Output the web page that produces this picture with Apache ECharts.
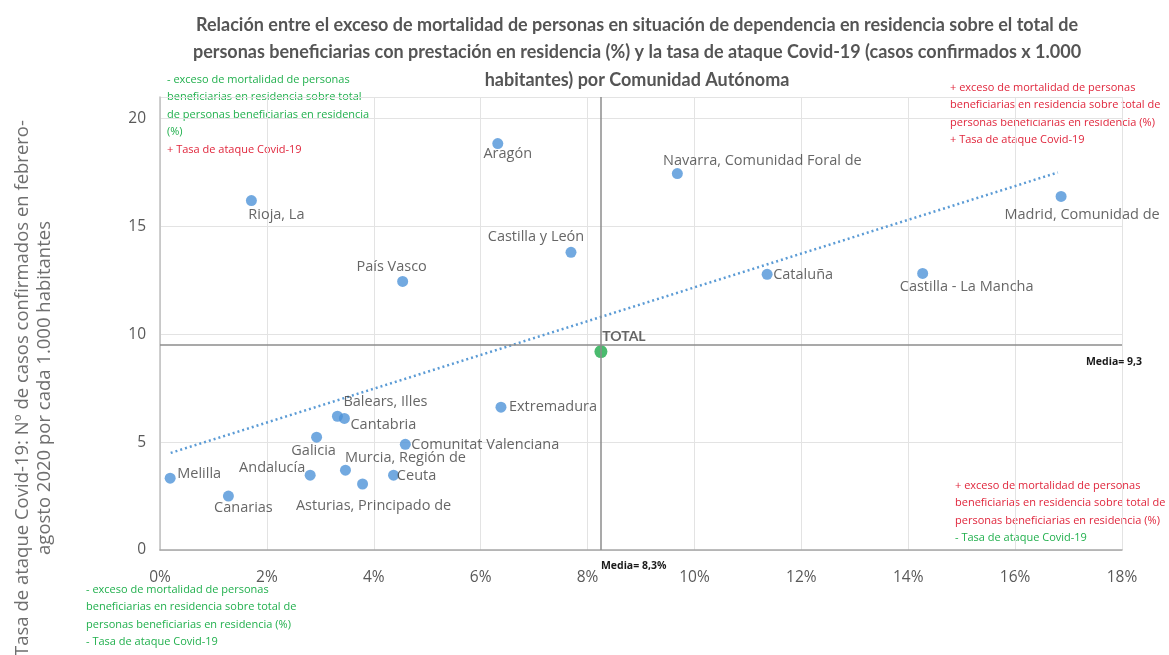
<!DOCTYPE html>
<html>
<head>
<meta charset="utf-8">
<script src="https://cdn.jsdelivr.net/npm/echarts@6/dist/echarts.min.js"></script>
<style>
  html, body { margin: 0; padding: 0; background: #fff; }
  #chart { width: 1169px; height: 655px; }
</style>
</head>
<body>
<div id="chart"></div>
<script>
// datos por Comunidad Autónoma
const regiones = ['Aragón', 'Navarra, Comunidad Foral de', 'Rioja, La', 'Madrid, Comunidad de',
  'Castilla y León', 'País Vasco', 'Cataluña', 'Castilla - La Mancha', 'Extremadura',
  'Balears, Illes', 'Cantabria', 'Galicia', 'Comunitat Valenciana', 'Murcia, Región de',
  'Andalucía', 'Ceuta', 'Asturias, Principado de', 'Melilla', 'Canarias'];
// exceso de mortalidad (%)
const excesoMortalidad = [6.32, 9.68, 1.71, 16.86, 7.69, 4.54, 11.36, 14.27, 6.38,
  3.32, 3.45, 2.93, 4.59, 3.47, 2.81, 4.37, 3.79, 0.19, 1.28];
// tasa de ataque Covid-19 (x 1.000 hab.)
const tasaAtaque = [18.84, 17.45, 16.2, 16.39, 13.8, 12.45, 12.78, 12.82, 6.62,
  6.2, 6.1, 5.23, 4.9, 3.7, 3.47, 3.47, 3.06, 3.33, 2.5];
const totalPunto = [8.25, 9.2];
const mediaExceso = 8.25;
const mediaTasa = 9.5;
const mediaExcesoTexto = 'Media= 8,3%';
const mediaTasaTexto = 'Media= 9,3';
// linea de tendencia (extremos)
const tendencia = [[0.2, 4.5], [16.8, 17.5]];
const xTicks = [0, 18, 2];
const yTicks = [0, 21, 5];

// desplazamiento de cada etiqueta respecto a su punto
const labelOffset = {
  'Aragón': [10, 10],
  'Navarra, Comunidad Foral de': [85, -13],
  'Rioja, La': [25, 14],
  'Madrid, Comunidad de': [21, 18],
  'Castilla y León': [-35, -15],
  'País Vasco': [-11, -15],
  'Cataluña': [36, 1],
  'Castilla - La Mancha': [44, 13],
  'Extremadura': [52, 0],
  'Balears, Illes': [48, -14],
  'Cantabria': [39, 6],
  'Galicia': [-3, 14],
  'Comunitat Valenciana': [80, 1],
  'Murcia, Región de': [60, -12],
  'Andalucía': [-38, -7],
  'Ceuta': [23, 1],
  'Asturias, Principado de': [11, 22],
  'Melilla': [29, -4],
  'Canarias': [15, 12]
};

const RED = '#E0263C';
const GREEN = '#22B04E';

let puntos = regiones.map((name, i) => ({
  name: name,
  value: [excesoMortalidad[i], tasaAtaque[i]],
  label: { offset: labelOffset[name] }
}));

function nota(lines) {
  return lines.map(l => '{' + l[0] + '|' + l[1] + '}').join('\n');
}
let notaRich = {
  g: { fill: GREEN, fontSize: 11, lineHeight: 17.5, fontFamily: 'Open Sans' },
  r: { fill: RED, fontSize: 11, lineHeight: 17.5, fontFamily: 'Open Sans' }
};

let chart = echarts.init(document.getElementById('chart'));
let option = {
  animation: false,
  grid: { left: 160, right: 47, top: 97, bottom: 105 },
  xAxis: {
    type: 'value',
    min: xTicks[0], max: xTicks[1], interval: xTicks[2],
    axisLine: { show: true, onZero: false, lineStyle: { color: '#a6a6a6', width: 1.5 } },
    axisTick: { show: false },
    axisLabel: {
      formatter: v => v + '%', color: '#595959', fontSize: 15.5, margin: 20,
      fontFamily: 'Open Sans'
    },
    splitLine: { show: true, lineStyle: { color: '#e3e3e3' } }
  },
  yAxis: {
    type: 'value',
    min: yTicks[0], max: yTicks[1], interval: yTicks[2],
    axisLine: { show: true, onZero: false, lineStyle: { color: '#bfbfbf', width: 1.5 } },
    axisTick: { show: false },
    axisLabel: {
      color: '#595959', fontSize: 15.5, margin: 14, fontFamily: 'Open Sans',
      showMaxLabel: false
    },
    splitLine: { show: true, lineStyle: { color: '#e3e3e3' } }
  },
  graphic: [
    {
      type: 'text', x: 637, y: 11,
      style: {
        text: 'Relación entre el exceso de mortalidad de personas en situación de dependencia en residencia sobre el total de\n' +
          'personas beneficiarias con prestación en residencia (%) y la tasa de ataque Covid-19 (casos confirmados x 1.000\n' +
          'habitantes) por Comunidad Autónoma',
        textAlign: 'center', fill: '#555555', fontSize: 18, fontWeight: 'bold',
        fontFamily: 'Lato', lineHeight: 27.5
      }
    },
    {
      type: 'text', x: 34, y: 388, rotation: Math.PI / 2,
      style: {
        text: 'Tasa de ataque Covid-19: Nº de casos confirmados en febrero-\nagosto 2020 por cada 1.000 habitantes',
        textAlign: 'center', textVerticalAlign: 'middle', fill: '#6f6f6f',
        fontSize: 18.5, fontFamily: 'Open Sans', lineHeight: 22
      }
    },
    {
      type: 'text', left: 167, top: 74,
      style: {
        text: nota([['g', '- exceso de mortalidad de personas'], ['g', 'beneficiarias en residencia sobre total'],
          ['g', 'de personas beneficiarias en residencia'], ['g', '(%)'], ['r', '+ Tasa de ataque Covid-19']]),
        rich: notaRich
      }
    },
    {
      type: 'text', left: 950, top: 82,
      style: {
        text: nota([['r', '+ exceso de mortalidad de personas'], ['r', 'beneficiarias en residencia sobre total de'],
          ['r', 'personas beneficiarias en residencia (%)'], ['r', '+ Tasa de ataque Covid-19']]),
        rich: notaRich
      }
    },
    {
      type: 'text', left: 955, top: 480,
      style: {
        text: nota([['r', '+ exceso de mortalidad de personas'], ['r', 'beneficiarias en residencia sobre total de'],
          ['r', 'personas beneficiarias en residencia (%)'], ['g', '- Tasa de ataque Covid-19']]),
        rich: notaRich
      }
    },
    {
      type: 'text', left: 86, top: 584,
      style: {
        text: nota([['g', '- exceso de mortalidad de personas'], ['g', 'beneficiarias en residencia sobre total de'],
          ['g', 'personas beneficiarias en residencia (%)'], ['g', '- Tasa de ataque Covid-19']]),
        rich: notaRich
      }
    }
  ],
  series: [
    {
      name: 'tendencia',
      type: 'line',
      data: tendencia,
      showSymbol: false,
      silent: true,
      z: 1,
      lineStyle: { color: '#5B9BD5', width: 2.5, type: [2, 3] }
    },
    {
      name: 'medias',
      type: 'scatter',
      data: [],
      markLine: {
        silent: true,
        symbol: 'none',
        lineStyle: { color: '#8c8c8c', width: 1.5, type: 'solid' },
        data: [
          {
            xAxis: mediaExceso,
            label: {
              formatter: mediaExcesoTexto, position: 'start', align: 'left',
              offset: [0, 6], color: '#1a1a1a', fontSize: 10.5, fontWeight: 'bold',
              fontFamily: 'Open Sans'
            }
          },
          {
            yAxis: mediaTasa,
            label: {
              formatter: mediaTasaTexto, position: 'insideEndBottom',
              offset: [25, 6], color: '#1a1a1a', fontSize: 10.5, fontWeight: 'bold',
              fontFamily: 'Open Sans'
            }
          }
        ]
      }
    },
    {
      name: 'CCAA',
      type: 'scatter',
      symbolSize: 11,
      z: 3,
      itemStyle: { color: '#4F93D8' },
      label: {
        show: true, position: 'inside', formatter: '{b}',
        color: '#404040', fontSize: 14.5, fontFamily: 'Open Sans'
      },
      data: puntos
    },
    {
      name: 'TOTAL',
      type: 'scatter',
      symbolSize: 13,
      z: 4,
      itemStyle: { color: '#1DAA4A' },
      label: {
        show: true, position: 'inside', formatter: 'TOTAL', offset: [23, -15],
        color: '#404040', fontSize: 14, fontWeight: 'bold', fontFamily: 'Lato'
      },
      data: [{ name: 'TOTAL', value: totalPunto }]
    }
  ]
};
chart.setOption(option);
</script>
</body>
</html>
